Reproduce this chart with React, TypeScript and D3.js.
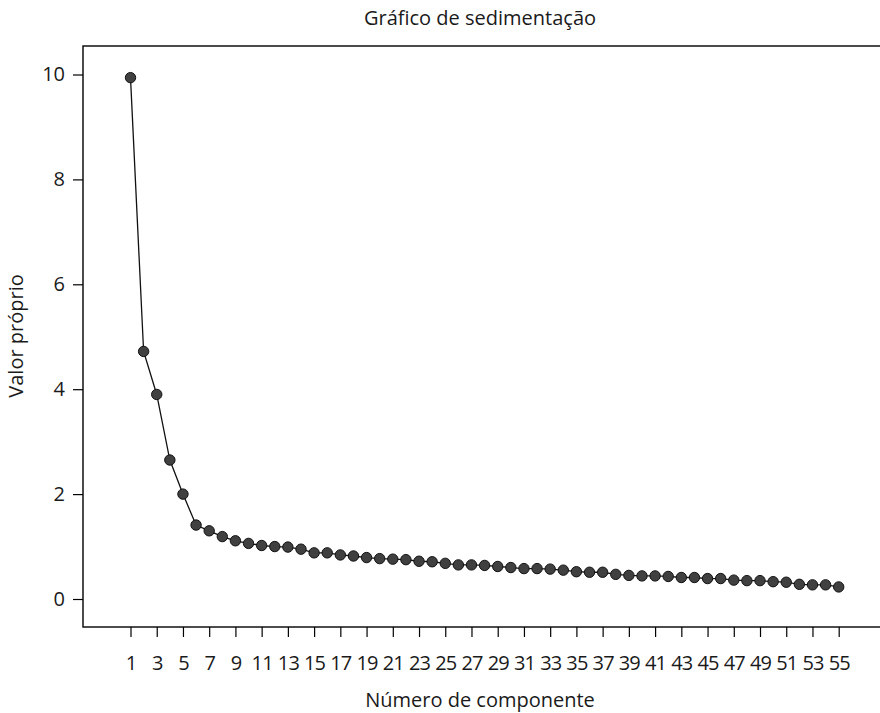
import React, { useRef, useEffect } from 'react';
import { scaleLinear, axisLeft, axisBottom, select, line, range } from 'd3';

// eigenvalues
const components = range(1, 56);
const eigenvalues = [
  9.94, 4.72, 3.9, 2.65, 2.0, 1.41, 1.3, 1.19, 1.11, 1.06,
  1.02, 1.0, 0.99, 0.95, 0.88, 0.88, 0.84, 0.82, 0.79, 0.77,
  0.76, 0.75, 0.72, 0.71, 0.68, 0.65, 0.65, 0.64, 0.62, 0.6,
  0.58, 0.58, 0.57, 0.55, 0.52, 0.51, 0.51, 0.47, 0.45, 0.44,
  0.44, 0.43, 0.41, 0.41, 0.39, 0.39, 0.36, 0.35, 0.35, 0.33,
  0.32, 0.28, 0.27, 0.27, 0.23
];
const xTicks = range(1, 56, 2);
const yTicks = [0, 2, 4, 6, 8, 10];

const title = 'Gráfico de sedimentação';
const xTitle = 'Número de componente';
const yTitle = 'Valor próprio';

const FONT = '"Open Sans", "Noto Sans", sans-serif';
const TEXT = '#1a1a1a';

export default function App() {
  const svgRef = useRef<SVGSVGElement>(null);

  useEffect(() => {
    const width = 880;
    const height = 713;
    const box = { left: 83, top: 46, right: 900, bottom: 627 };

    const svg = select(svgRef.current);
    svg.selectAll('*').remove();

    const x = scaleLinear().domain([1, 55]).range([130.5, 838.7]);
    const y = scaleLinear().domain([0, 10]).range([599, 74.5]);

    // frame (right side runs off the page)
    svg.append('rect')
      .attr('x', box.left)
      .attr('y', box.top)
      .attr('width', box.right - box.left)
      .attr('height', box.bottom - box.top)
      .attr('fill', 'none')
      .attr('stroke', '#000')
      .attr('stroke-width', 1.4);

    // Axis //
    const xAxis = axisBottom(x)
      .tickValues(xTicks)
      .tickSizeOuter(0)
      .tickSize(10);

    const xAxisGroup = svg.append('g')
      .attr('transform', `translate(0, ${box.bottom})`)
      .call(xAxis);
    xAxisGroup.select('.domain').remove();
    xAxisGroup.selectAll('line').attr('stroke', '#000').attr('stroke-width', 1.2);
    xAxisGroup.selectAll('text')
      .attr('y', 43)
      .attr('dy', 0)
      .attr('font-family', FONT)
      .attr('font-size', 20)
      .attr('letter-spacing', -0.9)
      .attr('fill', TEXT);

    const yAxis = axisLeft(y)
      .tickValues(yTicks)
      .tickSizeOuter(0)
      .tickSize(10)
      .tickPadding(8);

    const yAxisGroup = svg.append('g')
      .attr('transform', `translate(${box.left}, 0)`)
      .call(yAxis);
    yAxisGroup.select('.domain').remove();
    yAxisGroup.selectAll('line').attr('stroke', '#000').attr('stroke-width', 1.2);
    yAxisGroup.selectAll('text')
      .attr('font-family', FONT)
      .attr('font-size', 20)
      .attr('fill', TEXT);

    // Titles //
    svg.append('text')
      .attr('x', 480)
      .attr('y', 25)
      .attr('text-anchor', 'middle')
      .attr('font-family', FONT)
      .attr('font-size', 20)
      .attr('fill', TEXT)
      .text(title);

    svg.append('text')
      .attr('x', 480)
      .attr('y', 707)
      .attr('text-anchor', 'middle')
      .attr('font-family', FONT)
      .attr('font-size', 20)
      .attr('fill', TEXT)
      .text(xTitle);

    svg.append('text')
      .attr('transform', `translate(23, 336) rotate(-90)`)
      .attr('text-anchor', 'middle')
      .attr('font-family', FONT)
      .attr('font-size', 20)
      .attr('fill', TEXT)
      .text(yTitle);

    // Line //
    const data = components.map((c, i) => ({ c, v: eigenvalues[i] }));
    svg.append('path')
      .datum(data)
      .attr('fill', 'none')
      .attr('stroke', '#111')
      .attr('stroke-width', 1.3)
      .attr('d', line<{ c: number; v: number }>()
        .x(d => x(d.c))
        .y(d => y(d.v))
      );

    // Data Points //
    svg.selectAll('circle.pt')
      .data(data)
      .enter()
      .append('circle')
      .attr('class', 'pt')
      .attr('cx', d => x(d.c))
      .attr('cy', d => y(d.v))
      .attr('r', 5.2)
      .attr('fill', '#404040')
      .attr('stroke', '#111')
      .attr('stroke-width', 1);

    svg.attr('width', width).attr('height', height);
  }, []);

  return (
    <div style={{ position: 'absolute', left: 0, top: 0 }}>
      <svg ref={svgRef} width={880} height={713} style={{ display: 'block', background: '#fff' }} />
    </div>
  );
}
